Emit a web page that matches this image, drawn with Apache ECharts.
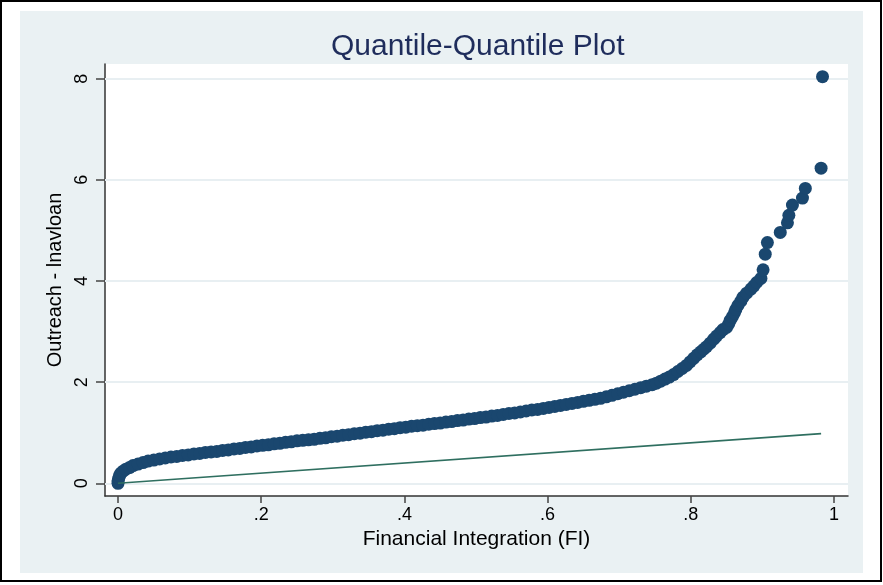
<!DOCTYPE html>
<html><head><meta charset="utf-8">
<script src="https://cdn.jsdelivr.net/npm/echarts@6/dist/echarts.min.js"></script>
<style>html,body{margin:0;padding:0;background:#fff}#c{width:883px;height:585px}</style>
</head><body><div id="c"></div>
<script>
// Quantile pairs
const fiQuantiles = [
0.000,0.000,0.001,0.002,0.004,0.007,0.011,0.016,0.021,0.028,0.035,0.042,0.050,0.058,0.066,0.074,0.082,0.090,0.098,0.106,
0.114,0.122,0.130,0.138,0.146,0.154,0.162,0.170,0.178,0.186,0.194,0.202,0.210,0.218,0.226,0.234,0.242,0.250,0.258,0.266,
0.274,0.282,0.290,0.298,0.306,0.314,0.322,0.330,0.338,0.346,0.354,0.362,0.370,0.378,0.386,0.394,0.402,0.410,0.418,0.426,
0.434,0.442,0.450,0.458,0.466,0.474,0.482,0.490,0.498,0.506,0.514,0.522,0.530,0.538,0.546,0.554,0.562,0.570,0.578,0.586,
0.594,0.602,0.610,0.618,0.626,0.634,0.642,0.650,0.658,0.666,0.674,0.682,0.690,0.698,0.706,0.714,0.722,0.730,0.738,0.746,
0.752,0.758,0.764,0.770,0.776,0.782,0.788,0.794,0.799,0.804,0.809,0.814,0.818,0.822,0.827,0.832,0.836,0.841,0.845,0.850,
0.853,0.855,0.858,0.861,0.863,0.866,0.870,0.873,0.878,0.884,0.888,0.892,0.898,0.901,0.904,0.907,0.925,0.935,0.937,0.942,
0.956,0.960,0.982,0.984
];
const lnavloanQuantiles = [
0.00,0.05,0.10,0.15,0.20,0.24,0.28,0.31,0.35,0.38,0.41,0.44,0.46,0.48,0.50,0.52,0.53,0.55,0.56,0.58,
0.59,0.61,0.62,0.63,0.65,0.66,0.68,0.69,0.71,0.72,0.74,0.75,0.76,0.78,0.79,0.81,0.82,0.84,0.85,0.86,
0.87,0.89,0.90,0.92,0.93,0.95,0.96,0.98,0.99,1.01,1.02,1.04,1.05,1.07,1.08,1.10,1.11,1.13,1.14,1.15,
1.17,1.18,1.19,1.21,1.22,1.24,1.25,1.27,1.28,1.30,1.31,1.33,1.34,1.36,1.38,1.39,1.41,1.43,1.45,1.46,
1.48,1.50,1.52,1.54,1.56,1.58,1.60,1.62,1.64,1.66,1.68,1.71,1.74,1.77,1.80,1.83,1.86,1.89,1.92,1.95,
1.98,2.02,2.06,2.10,2.15,2.21,2.27,2.33,2.40,2.47,2.54,2.60,2.65,2.70,2.77,2.85,2.91,2.98,3.04,3.08,
3.15,3.22,3.29,3.37,3.44,3.52,3.60,3.68,3.76,3.84,3.90,3.97,4.05,4.22,4.53,4.76,4.96,5.15,5.30,5.50,
5.64,5.83,6.23,8.04
];
// Reference line (y = x)
const refLineX = [0, 0.982];
const refLineY = [0, 0.982];
// Axis ticks
const xTicks = [0, 0.2, 0.4, 0.6, 0.8, 1];
const xTickLabels = ['0', '.2', '.4', '.6', '.8', '1'];
const yTicks = [0, 2, 4, 6, 8];
const yTickLabels = ['0', '2', '4', '6', '8'];

const FONT = "'Liberation Sans', Arial, sans-serif";
const qqData = fiQuantiles.map((x, i) => [x, lnavloanQuantiles[i]]);
const lineData = refLineX.map((x, i) => [x, refLineY[i]]);
const fmt = (ticks, labels) => v => {
  const i = ticks.findIndex(t => Math.abs(t - v) < 1e-9);
  return i >= 0 ? labels[i] : '';
};

const chart = echarts.init(document.getElementById('c'), null, {renderer: 'canvas'});
chart.setOption({
  backgroundColor: '#ffffff',
  animation: false,
  graphic: [
    {type: 'rect', z: -100, silent: true, shape: {x: 1, y: 1, width: 880, height: 580},
     style: {fill: '#ffffff', stroke: '#000000', lineWidth: 2}},
    {type: 'rect', z: -99, silent: true, shape: {x: 20, y: 11, width: 843, height: 562},
     style: {fill: '#EAF1F3'}}
  ],
  title: {
    text: 'Quantile-Quantile Plot',
    left: 331, top: 32, padding: 0,
    textStyle: {fontFamily: FONT, fontSize: 30, fontWeight: 'normal', color: '#1f2d5c'}
  },
  grid: {left: 105, top: 64, width: 743, height: 432, show: true, backgroundColor: '#ffffff', borderWidth: 0, containLabel: false},
  xAxis: {
    type: 'value', min: -0.0182, max: 1.0196,
    name: 'Financial Integration (FI)', nameLocation: 'middle', nameGap: 28,
    nameTextStyle: {fontFamily: FONT, fontSize: 21, color: '#000'},
    axisLine: {show: true, onZero: false, lineStyle: {color: '#333', width: 1.5}},
    axisTick: {show: true, length: 7, customValues: xTicks, lineStyle: {color: '#444', width: 1.5}},
    axisLabel: {customValues: xTicks, formatter: fmt(xTicks, xTickLabels), margin: 10,
      fontFamily: FONT, fontSize: 18, color: '#000'},
    splitLine: {show: false}
  },
  yAxis: {
    type: 'value', min: -0.251, max: 8.29,
    name: 'Outreach - lnavloan', nameLocation: 'middle', nameGap: 38, nameRotate: 90,
    nameTextStyle: {fontFamily: FONT, fontSize: 20, color: '#000'},
    axisLine: {show: true, onZero: false, lineStyle: {color: '#333', width: 1.5}},
    axisTick: {show: true, length: 9, customValues: yTicks, lineStyle: {color: '#444', width: 1.5}},
    axisLabel: {customValues: yTicks, formatter: fmt(yTicks, yTickLabels), rotate: 90, margin: 14,
      fontFamily: FONT, fontSize: 18, color: '#000'},
    splitLine: {show: false}
  },
  series: [
    {
      type: 'scatter', data: [], z: 1, silent: true,
      markLine: {
        z: 1, silent: true, symbol: 'none', animation: false,
        label: {show: false},
        lineStyle: {color: '#E8EFF2', width: 2, type: 'solid'},
        data: yTicks.map(v => ({yAxis: v}))
      }
    },
    {
      type: 'scatter', data: qqData, z: 10, symbol: 'circle', symbolSize: 13,
      itemStyle: {color: '#1a476f', opacity: 1}
    },
    {
      type: 'line', data: lineData, z: 11, symbol: 'none',
      lineStyle: {color: '#2f6f60', width: 1.6}
    }
  ]
});
</script></body></html>
